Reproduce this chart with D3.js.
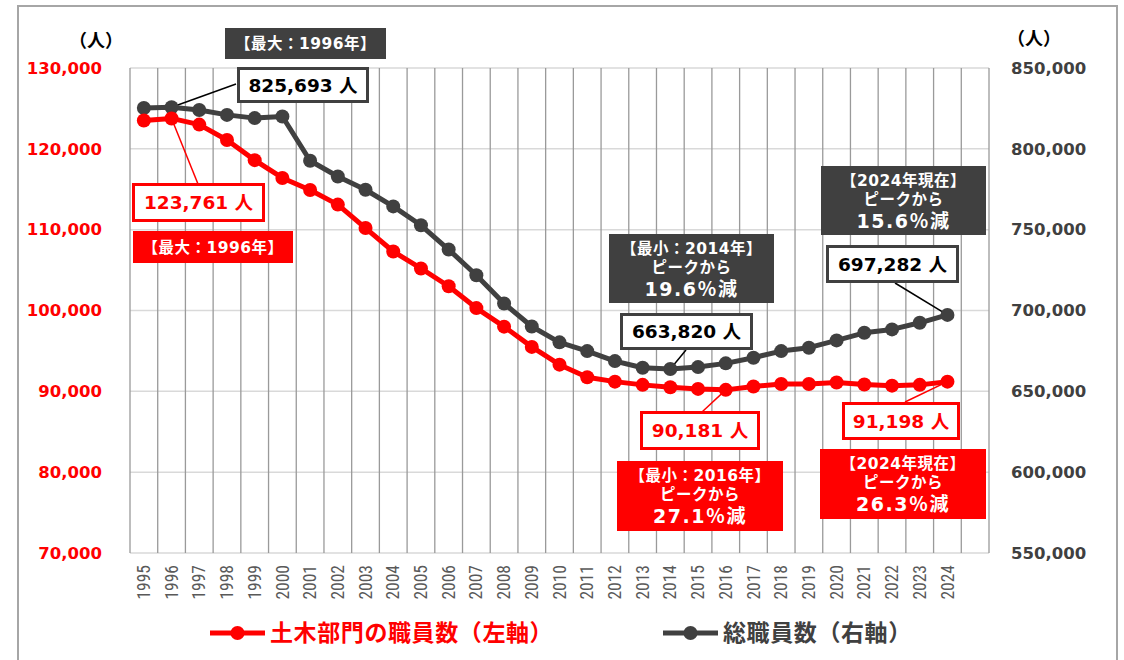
<!DOCTYPE html>
<html>
<head>
<meta charset="utf-8">
<script src="https://cdn.jsdelivr.net/npm/d3@7"></script>
<style>
  body { margin: 0; background: #fff; }
  svg { display: block; }
  text { font-family: "DejaVu Sans", "Noto Sans CJK JP", sans-serif; }
</style>
</head>
<body>
<div id="viz"></div>
<script>
const years = [1995, 1996, 1997, 1998, 1999, 2000, 2001, 2002, 2003, 2004,
    2005, 2006, 2007, 2008, 2009, 2010, 2011, 2012, 2013, 2014,
    2015, 2016, 2017, 2018, 2019, 2020, 2021, 2022, 2023, 2024];

// 土木部門の職員数 (left axis)
const civilStaff = [123500, 123761, 123000, 121100, 118600, 116400, 114900, 113100, 110200, 107300,
    105200, 103000, 100300, 98000, 95500, 93300, 91750, 91200, 90800, 90500,
    90300, 90181, 90600, 90900, 90900, 91100, 90850, 90700, 90800, 91198];

// 総職員数 (right axis)
const totalStaff = [825300, 825693, 824000, 821000, 819000, 820000, 792600, 782900, 774700, 764400,
    752700, 737700, 721800, 704300, 690100, 680300, 674900, 668700, 664600, 663820,
    665000, 667300, 670800, 674900, 677000, 681500, 686200, 688300, 692400, 697282];

const leftTicks = [70000, 80000, 90000, 100000, 110000, 120000, 130000];
const rightTicks = [550000, 600000, 650000, 700000, 750000, 800000, 850000];

const width = 1124, height = 660;
const plotLeft = 130, plotRight = 989, plotTop = 68, plotBottom = 553;
const red = '#ff0000', dark = '#404040';

const svg = d3.select('#viz')
    .append('svg')
    .attr('width', width)
    .attr('height', height);

// outer frame
svg.append('rect')
    .attr('x', 18).attr('y', 6)
    .attr('width', 1099).attr('height', 700)
    .attr('fill', 'none')
    .attr('stroke', '#a6a6a6')
    .attr('stroke-width', 2);

// one empty slot after 2024
let xScale = d3.scaleBand()
    .domain(years.concat([2025]))
    .range([plotLeft, plotRight]);

let yLeft = d3.scaleLinear()
    .domain([70000, 130000])
    .range([plotBottom, plotTop]);

let yRight = d3.scaleLinear()
    .domain([550000, 850000])
    .range([plotBottom, plotTop]);

const cx = d => xScale(d) + xScale.bandwidth() / 2;

// grid
svg.append('g')
    .selectAll('line')
    .data(leftTicks)
    .enter()
    .append('line')
    .attr('x1', plotLeft).attr('x2', plotRight)
    .attr('y1', d => yLeft(d)).attr('y2', d => yLeft(d))
    .attr('stroke', '#d9d9d9')
    .attr('stroke-width', 1.5);

svg.append('g')
    .selectAll('line')
    .data(xScale.domain().map(d => xScale(d)).concat([plotRight]))
    .enter()
    .append('line')
    .attr('x1', d => d).attr('x2', d => d)
    .attr('y1', plotTop).attr('y2', plotBottom)
    .attr('stroke', '#9a9a9a')
    .attr('stroke-width', 1.3);

// axes
let axisL = svg.append('g')
    .attr('transform', `translate(${plotLeft},0)`)
    .call(d3.axisLeft(yLeft).tickValues(leftTicks).tickFormat(d3.format(',')).tickSize(0).tickPadding(28));
axisL.select('.domain').remove();
axisL.selectAll('text')
    .attr('fill', red)
    .style('font-size', '16.5px')
    .style('font-weight', 'bold');

let axisR = svg.append('g')
    .attr('transform', `translate(${plotRight},0)`)
    .call(d3.axisRight(yRight).tickValues(rightTicks).tickFormat(d3.format(',')).tickSize(0).tickPadding(22));
axisR.select('.domain').remove();
axisR.selectAll('text')
    .attr('fill', dark)
    .style('font-size', '16.5px')
    .style('font-weight', 'bold');

let axisX = svg.append('g')
    .attr('transform', `translate(0,${plotBottom})`)
    .call(d3.axisBottom(xScale).tickValues(years).tickSize(0));
axisX.select('.domain').remove();
axisX.selectAll('text')
    .attr('fill', '#595959')
    .style('font-size', '17.5px')
    .style('font-family', '"Liberation Sans Narrow", "Roboto Condensed", sans-serif')
    .attr('text-anchor', 'end')
    .attr('transform', 'rotate(-90)')
    .attr('x', -12)
    .attr('y', 0)
    .attr('dy', '0.35em');

// unit labels
svg.append('text')
    .attr('x', 96).attr('y', 47)
    .attr('text-anchor', 'middle')
    .style('font-size', '18px').style('font-weight', 'bold')
    .text('（人）');
svg.append('text')
    .attr('x', 1034).attr('y', 45)
    .attr('text-anchor', 'middle')
    .style('font-size', '18px').style('font-weight', 'bold')
    .text('（人）');

// series
function drawSeries(values, scale, color) {
    const pts = values.map((v, i) => [cx(years[i]), scale(v)]);
    svg.append('path')
        .attr('d', d3.line()(pts))
        .attr('fill', 'none')
        .attr('stroke', color)
        .attr('stroke-width', 5)
        .attr('stroke-linejoin', 'round');
    svg.append('g')
        .selectAll('circle')
        .data(pts)
        .enter()
        .append('circle')
        .attr('cx', d => d[0])
        .attr('cy', d => d[1])
        .attr('r', 7)
        .attr('fill', color);
}

// leader lines first so they sit under the boxes
const leaders = [
    { year: 1996, value: 825693, scale: yRight, to: [236, 84], color: '#000' },
    { year: 1996, value: 123761, scale: yLeft, to: [198, 184], color: red },
    { year: 2014, value: 663820, scale: yRight, to: [686, 350], color: '#000' },
    { year: 2024, value: 697282, scale: yRight, to: [895, 283], color: '#000' },
    { year: 2016, value: 90181, scale: yLeft, to: [702, 412], color: red },
    { year: 2024, value: 91198, scale: yLeft, to: [905, 402], color: red }
];

leaders.forEach(l => {
    svg.append('line')
        .attr('x1', cx(l.year)).attr('y1', l.scale(l.value))
        .attr('x2', l.to[0]).attr('y2', l.to[1])
        .attr('stroke', l.color)
        .attr('stroke-width', 1.5);
});

drawSeries(totalStaff, yRight, dark);
drawSeries(civilStaff, yLeft, red);

// value boxes
const valueBoxes = [
    { x: 237, y: 67, w: 132, h: 36, text: '825,693 人', stroke: dark, color: '#000' },
    { x: 132, y: 183, w: 133, h: 39, text: '123,761 人', stroke: red, color: red },
    { x: 620, y: 313, w: 133, h: 37, text: '663,820 人', stroke: dark, color: '#000' },
    { x: 826, y: 245, w: 133, h: 38, text: '697,282 人', stroke: dark, color: '#000' },
    { x: 640, y: 411, w: 120, h: 39, text: '90,181 人', stroke: red, color: red },
    { x: 842, y: 402, w: 118, h: 38, text: '91,198 人', stroke: red, color: red }
];

valueBoxes.forEach(b => {
    svg.append('rect')
        .attr('x', b.x + 1.5).attr('y', b.y + 1.5)
        .attr('width', b.w - 3).attr('height', b.h - 3)
        .attr('fill', '#fff')
        .attr('stroke', b.stroke)
        .attr('stroke-width', 3);
    svg.append('text')
        .attr('x', b.x + b.w / 2).attr('y', b.y + b.h / 2)
        .attr('dy', '0.36em')
        .attr('text-anchor', 'middle')
        .attr('fill', b.color)
        .style('font-size', '18.5px').style('font-weight', 'bold')
        .text(b.text);
});

// filled note boxes
const noteBoxes = [
    { x: 225, y: 28, w: 161, h: 31, fill: dark, lines: ['【最大：1996年】'] },
    { x: 133, y: 231, w: 160, h: 32, fill: red, lines: ['【最大：1996年】'] },
    { x: 609, y: 234, w: 165, h: 69, fill: dark, lines: ['【最小：2014年】', 'ピークから', '19.6％減'] },
    { x: 821, y: 166, w: 165, h: 69, fill: dark, lines: ['【2024年現在】', 'ピークから', '15.6％減'] },
    { x: 617, y: 461, w: 166, h: 70, fill: red, lines: ['【最小：2016年】', 'ピークから', '27.1％減'] },
    { x: 820, y: 449, w: 166, h: 70, fill: red, lines: ['【2024年現在】', 'ピークから', '26.3％減'] }
];

const lineOffsets = [14, 33, 55];

noteBoxes.forEach(b => {
    svg.append('rect')
        .attr('x', b.x).attr('y', b.y)
        .attr('width', b.w).attr('height', b.h)
        .attr('fill', b.fill);
    b.lines.forEach((t, i) => {
        svg.append('text')
            .attr('x', b.x + b.w / 2)
            .attr('y', b.lines.length === 1 ? b.y + b.h / 2 : b.y + lineOffsets[i])
            .attr('dy', '0.36em')
            .attr('text-anchor', 'middle')
            .attr('fill', '#fff')
            .style('font-size', i === 2 ? '19px' : '15.5px')
            .style('letter-spacing', i === 2 ? '1.5px' : '0.5px')
            .style('font-weight', 'bold')
            .text(t);
    });
});

// legend
const legend = [
    { x: 210, label: '土木部門の職員数（左軸）', color: red },
    { x: 663, label: '総職員数（右軸）', color: dark }
];

legend.forEach(l => {
    svg.append('line')
        .attr('x1', l.x).attr('x2', l.x + 55)
        .attr('y1', 633).attr('y2', 633)
        .attr('stroke', l.color)
        .attr('stroke-width', 5);
    svg.append('circle')
        .attr('cx', l.x + 27.5).attr('cy', 633)
        .attr('r', 7)
        .attr('fill', l.color);
    svg.append('text')
        .attr('x', l.x + 60).attr('y', 633)
        .attr('dy', '0.36em')
        .attr('fill', l.color)
        .style('font-size', '23px')
        .style('letter-spacing', '0.6px')
        .style('font-weight', 'bold')
        .style('font-family', '"Noto Sans CJK JP", sans-serif')
        .text(l.label);
});
</script>
</body>
</html>
